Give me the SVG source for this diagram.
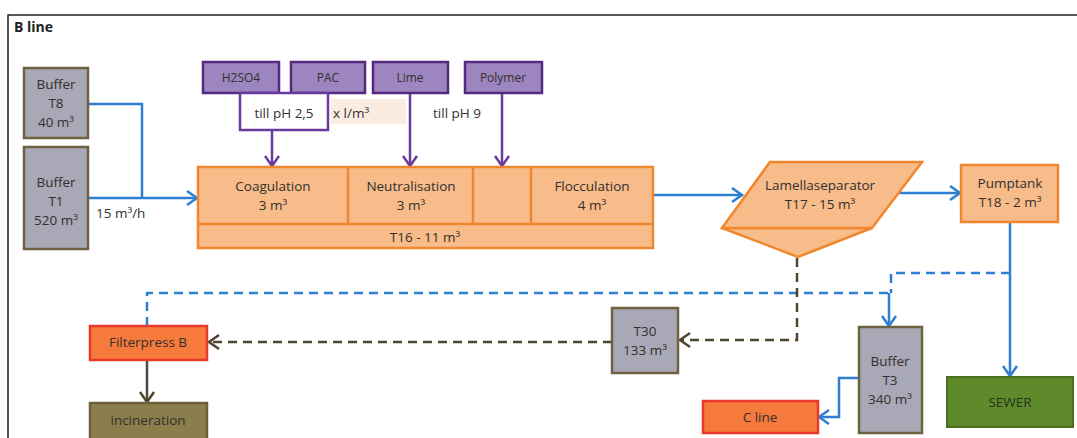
<svg xmlns="http://www.w3.org/2000/svg" width="1077" height="438" viewBox="0 0 1077 438">
<defs>
<style>
text{font-family:"Open Sans","Liberation Sans",sans-serif;font-size:13.5px;fill:#33302d;text-anchor:middle}
.gray{fill:#a9a8b6;stroke:#6f6242;stroke-width:2.5}
.org{fill:#f8bb8a;stroke:#f0872e;stroke-width:2.5}
.pur{fill:#9d86bf;stroke:#55297f;stroke-width:2.5}
.red{fill:#f67a3c;stroke:#e8392b;stroke-width:2.5}
.blue{fill:none;stroke:#2e7fd3;stroke-width:2.5}
.bdash{fill:none;stroke:#2e7fd3;stroke-width:2.5;stroke-dasharray:9,6}
.brdash{fill:none;stroke:#4f4630;stroke-width:2.5;stroke-dasharray:9,6}
.purl{fill:none;stroke:#6a3a9e;stroke-width:2.5}
.sm{font-size:12px}
</style>
<marker id="ab" markerUnits="userSpaceOnUse" markerWidth="14" markerHeight="16" refX="11" refY="8" orient="auto"><path d="M1,1 L11,8 L1,15" fill="none" stroke="#2e7fd3" stroke-width="2.5"/></marker>
<marker id="ap" markerUnits="userSpaceOnUse" markerWidth="14" markerHeight="16" refX="11" refY="8" orient="auto"><path d="M1,1 L11,8 L1,15" fill="none" stroke="#6a3a9e" stroke-width="2.5"/></marker>
<marker id="ak" markerUnits="userSpaceOnUse" markerWidth="14" markerHeight="16" refX="11" refY="8" orient="auto"><path d="M1,1 L11,8 L1,15" fill="none" stroke="#4f4630" stroke-width="2.5"/></marker>
</defs>
<rect width="1077" height="438" fill="#ffffff"/>
<path d="M8,438 L8,15 L1077,15" fill="none" stroke="#222" stroke-width="1.5"/>
<text x="14" y="32" style="text-anchor:start;font-weight:bold;font-size:14px;fill:#222">B line</text>

<g id="connectors">
<path class="blue" d="M88,104 L142,104 L142,198"/>
<path class="blue" d="M88,198 L197,198" marker-end="url(#ab)"/>
<path class="purl" d="M272,130 L272,166" marker-end="url(#ap)"/>
<path class="purl" d="M410,93 L410,166" marker-end="url(#ap)"/>
<path class="purl" d="M502,93 L502,166" marker-end="url(#ap)"/>
<path class="blue" d="M653,195 L742,195" marker-end="url(#ab)"/>
<path class="blue" d="M897,193 L960,193" marker-end="url(#ab)"/>
<path class="blue" d="M1010,222 L1010,376" marker-end="url(#ab)"/>
<path class="bdash" d="M1010,273 L891,273 L891,293"/>
<path class="bdash" d="M147,326 L147,293 L889,293"/>
<path class="blue" d="M889,293 L889,326" marker-end="url(#ab)"/>
<path class="brdash" d="M797,258 L797,340 L680,340" marker-end="url(#ak)"/>
<path class="brdash" d="M612,342 L209,342" marker-end="url(#ak)"/>
<path d="M147,360 L147,402" fill="none" stroke="#4f4a40" stroke-width="2.5" marker-end="url(#ak)"/>
<path class="blue" d="M859,378 L839,378 L839,417 L819,417" marker-end="url(#ab)"/>
<text x="96" y="218" style="text-anchor:start">15 m³/h</text>
</g>

<g id="bufferT8"><rect class="gray" x="24" y="68" width="64" height="70"/><text x="56" y="89">Buffer</text><text x="56" y="108">T8</text><text x="56" y="127">40 m³</text></g>
<g id="bufferT1"><rect class="gray" x="24" y="147" width="64" height="102"/><text x="56" y="187">Buffer</text><text x="56" y="206">T1</text><text x="56" y="225">520 m³</text></g>

<g id="h2so4"><rect class="pur" x="203" y="62" width="76" height="31"/><text class="sm" x="241" y="82">H2SO4</text></g>
<g id="pac"><rect class="pur" x="291" y="62" width="74" height="31"/><text class="sm" x="328" y="82">PAC</text></g>
<g id="lime"><rect class="pur" x="373" y="62" width="75" height="31"/><text class="sm" x="410" y="82">Lime</text></g>
<g id="polymer"><rect class="pur" x="465" y="62" width="77" height="31"/><text class="sm" x="503" y="82">Polymer</text></g>
<g id="dosing">
<rect x="240" y="93" width="88" height="37" fill="#fff" stroke="#6a3a9e" stroke-width="2.5"/>
<text x="284" y="118">till pH 2,5</text>
<rect x="331" y="99" width="75" height="25" fill="#fbece2"/>
<text x="333" y="118" style="text-anchor:start">x l/m³</text>
<text x="457" y="118">till pH 9</text>
</g>

<g id="T16">
<rect class="org" x="198" y="167" width="455" height="81"/>
<path d="M198,224 L653,224 M348,167 L348,224 M473,167 L473,224 M531,167 L531,224" stroke="#f0872e" stroke-width="2.5"/>
<text x="273" y="191">Coagulation</text><text x="273" y="210">3 m³</text>
<text x="411" y="191">Neutralisation</text><text x="411" y="210">3 m³</text>
<text x="592" y="191">Flocculation</text><text x="592" y="210">4 m³</text>
<text x="425" y="242">T16 - 11 m³</text>
</g>

<g id="lamella">
<path class="org" d="M722,228 L872,228 L798,257 Z"/>
<path class="org" d="M770,162 L922,162 L872,228 L722,228 Z"/>
<text x="820" y="190">Lamellaseparator</text><text x="820" y="209">T17 - 15 m³</text>
</g>
<g id="pumptank"><rect class="org" x="961" y="165" width="97" height="57"/><text x="1010" y="188">Pumptank</text><text x="1010" y="207">T18 - 2 m³</text></g>

<g id="filterpress"><rect class="red" x="90" y="326" width="117" height="34"/><text x="148" y="347">Filterpress B</text></g>
<g id="incineration"><rect x="90" y="403" width="117" height="40" fill="#8c7d4c" stroke="#6e6038" stroke-width="2.5"/><text x="148" y="425">incineration</text></g>
<g id="T30"><rect class="gray" x="612" y="308" width="66" height="65"/><text x="645" y="336">T30</text><text x="645" y="355">133 m³</text></g>
<g id="bufferT3"><rect class="gray" x="859" y="327" width="63" height="106"/><text x="890" y="366">Buffer</text><text x="890" y="385">T3</text><text x="890" y="404">340 m³</text></g>
<g id="cline"><rect class="red" x="703" y="401" width="115" height="32"/><text x="760" y="422">C line</text></g>
<g id="sewer"><rect x="947" y="377" width="126" height="50" fill="#5e8a2b" stroke="#4b6d20" stroke-width="2"/><text x="1010" y="407" style="fill:#26331a">SEWER</text></g>
</svg>
